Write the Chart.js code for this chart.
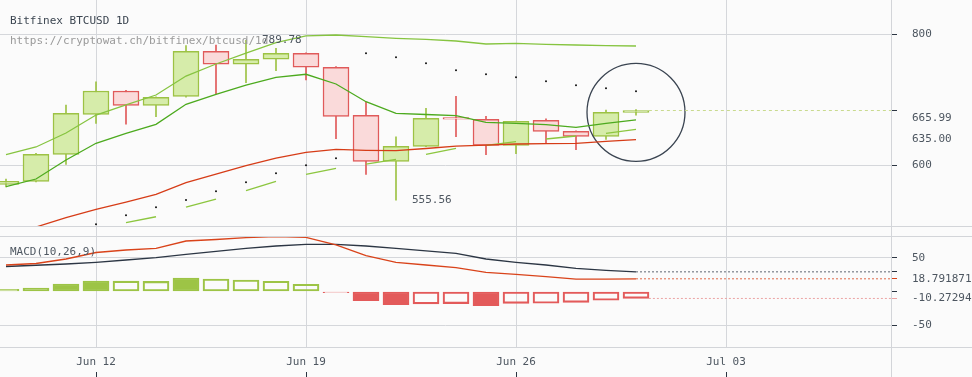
<!DOCTYPE html>
<html>
<head>
<meta charset="utf-8">
<script src="https://cdn.jsdelivr.net/npm/chart.js@4.4.1/dist/chart.umd.min.js"></script>
<style>
  html, body { margin: 0; padding: 0; background: #fbfbfb; }
  #wrap { position: relative; width: 972px; height: 377px; overflow: hidden; background: #fbfbfb;
          font-family: "DejaVu Sans Mono", monospace; font-size: 11px; }
  canvas { position: absolute; left: 0; }
  #main { top: 0; }
  #macd { top: 226px; }
  .hl { position: absolute; left: 0; width: 972px; height: 1px; background: #d3d5d9; }
  .vl { position: absolute; top: 0; left: 891px; width: 1px; height: 377px; background: #d3d5d9; }
  .txt { position: absolute; white-space: nowrap; line-height: 13px; }
</style>
</head>
<body>
<div id="wrap">
  <canvas id="main" width="972" height="226"></canvas>
  <canvas id="macd" width="972" height="151"></canvas>
  <div class="hl" style="top:226px"></div>
  <div class="hl" style="top:236px"></div>
  <div class="hl" style="top:347px"></div>
  <div class="vl"></div>
  <div class="txt" style="left:10px;top:14px;color:#3b4550">Bitfinex BTCUSD 1D</div>
  <div class="txt" style="left:10px;top:34px;color:#9a9a9a">https://cryptowat.ch/bitfinex/btcusd/1d</div>
  <div class="txt" style="left:10px;top:245px;color:#4f5862">MACD(10,26,9)</div>
</div>
<script>
// daily candles, Jun 09 .. Jun 30
const dates = ["Jun 09", "Jun 10", "Jun 11", "Jun 12", "Jun 13", "Jun 14", "Jun 15", "Jun 16",
  "Jun 17", "Jun 18", "Jun 19", "Jun 20", "Jun 21", "Jun 22", "Jun 23", "Jun 24", "Jun 25",
  "Jun 26", "Jun 27", "Jun 28", "Jun 29", "Jun 30"];
const opens = [575.4, 579.2, 614.7, 671.3, 706.6, 684.7, 698.4, 771.1, 749.4, 757.7, 767.7,
  744.5, 669.8, 605.3, 625.6, 666.4, 663.9, 627.0, 662.5, 646.6, 639.5, 674.0];
const closes = [579.2, 614.7, 672.8, 706.6, 684.7, 696.9, 771.1, 749.4, 757.7, 767.7, 744.5,
  668.3, 605.3, 625.6, 665.4, 664.2, 627.0, 661.0, 646.6, 639.5, 674.2, 676.9];
const highs = [582.2, 616.0, 685.2, 721.2, 707.5, 697.5, 780.7, 781.9, 789.78, 776.2, 768.5,
  745.5, 689.2, 639.0, 680.2, 698.4, 668.3, 661.5, 664.8, 647.2, 677.7, 678.2];
const lows = [572.0, 578.5, 601.3, 658.1, 656.7, 667.7, 697.0, 702.0, 719.6, 738.9, 723.9,
  636.2, 588.2, 555.56, 625.0, 639.0, 614.2, 615.5, 629.8, 621.0, 635.3, 670.2];

// overlays
const upperLine = [614.4, 624.7, 644.2, 670.2, 685.2, 700.4, 730.3, 749.9, 768.2, 785.9, 797.6,
  799.3, 796.3, 793.5, 791.8, 788.8, 783.6, 784.8, 783.1, 781.9, 780.7, 780.2];
const midLine = [572.6, 582.2, 607.0, 629.8, 643.8, 656.7, 686.2, 701.5, 716.0, 728.2, 733.1,
  717.6, 690.2, 672.8, 671.0, 669.2, 659.6, 658.1, 656.1, 652.3, 658.1, 663.0];
const lowerLine = [521.5, 523.8, 534.9, 544.6, 553.4, 562.9, 577.5, 588.6, 599.5, 609.7, 617.4,
  621.5, 620.1, 619.6, 622.6, 626.0, 627.4, 628.8, 629.4, 629.8, 632.6, 635.0];
const dashLine = [null, null, 513.5, 521.5, 528.8, 535.8, 547.4, 557.1, 567.4, 579.2, 588.2,
  596.1, 601.7, 608.0, 614.7, 622.9, 627.0, 632.0, 635.8, 640.0, 643.8, 649.5];
const sarDots = [null, null, null, 526.9, 537.5, 547.0, 555.9, 566.6, 578.0, 589.5, 600.0,
  609.3, 767.7, 761.0, 751.0, 739.5, 733.1, 728.2, 721.9, 715.5, 710.8, 706.1];
const circleIdx = [21];
const circleVal = [674.2];

// MACD(10,26,9)
const macdLine = [39.2, 41.4, 48.1, 57.7, 61.4, 63.9, 74.7, 76.9, 79.6, 81.1, 80.2, 68.8,
  53.0, 43.2, 39.2, 35.2, 28.4, 25.4, 21.9, 18.2, 18.3, 18.791871];
const signalLine = [37.0, 38.8, 40.7, 43.2, 46.6, 50.0, 55.0, 59.5, 63.9, 67.3, 69.8, 69.8,
  67.3, 63.9, 60.2, 56.5, 48.1, 43.2, 39.2, 34.3, 31.4, 29.06];
const histValues = [3.3, 5.2, 11.1, 15.5, 15.3, 15.0, 20.0, 18.5, 17.0, 15.1, 10.7, -1.8,
  -13.6, -19.5, -18.2, -17.9, -21.0, -17.5, -17.4, -16.0, -13.0, -10.27294];

// axes
const xTickIdx = [3, 10, 17, 24];
const xTickLabels = ["Jun 12", "Jun 19", "Jun 26", "Jul 03"];
const priceGridValues = [600, 800];
const priceMarkers = [665.99, 635.00];
const macdGridValues = [50, -50];

const X_MIN = -0.2, X_MAX = 29.5;
const GRID = "#d5d7db";
const CLEAR = "rgba(0,0,0,0)";
const TICK_DARK = "#2b3542";

Chart.defaults.font.family = '"DejaVu Sans Mono", monospace';
Chart.defaults.font.size = 11;
Chart.defaults.color = "#4d5660";

const last = dates.length - 1;
const lastClose = closes[last];
const pts = arr => arr.map((v, i) => ({ x: i, y: v }));
const up = closes.map((c, i) => c >= opens[i]);
const bodyFill = up.map(u => (u ? "#d6ecaa" : "#fadada"));
const bodyLine = up.map(u => (u ? "#9dc244" : "#e05a5a"));

const xTicks = s => { s.ticks = xTickIdx.map(v => ({ value: v })); };
const noPad = s => { s.paddingTop = 0; s.paddingBottom = 0; s.paddingLeft = 0; s.paddingRight = 0; };

function lineDs(data, color, extra) {
  return Object.assign({ type: "line", data, borderColor: color, borderWidth: 1.3,
    pointRadius: 0, tension: 0, order: 0 }, extra || {});
}

const extremaLabels = {
  id: "extremaLabels",
  afterDatasetsDraw(chart) {
    const { ctx, scales } = chart;
    const hi = Math.max(...highs);
    const lo = Math.min(...lows);
    ctx.save();
    ctx.font = '11px "DejaVu Sans Mono"';
    ctx.fillStyle = "#4d5660";
    ctx.textBaseline = "middle";
    ctx.fillText(hi.toFixed(2), scales.x.getPixelForValue(highs.indexOf(hi)) + 16, scales.y.getPixelForValue(hi));
    ctx.fillText(lo.toFixed(2), scales.x.getPixelForValue(lows.indexOf(lo)) + 16, scales.y.getPixelForValue(lo));
    ctx.restore();
  },
};

const priceAxis = [...priceGridValues, ...priceMarkers, lastClose].sort((a, b) => a - b);

new Chart(document.getElementById("main"), {
  type: "bar",
  data: {
    datasets: [
      lineDs(pts(upperLine), "#86c440"),
      lineDs(pts(midLine), "#4caa1e"),
      lineDs(pts(lowerLine), "#d63c17"),
      lineDs(pts(dashLine), "#8cc63f", {
        segment: { borderColor: c => (c.p0DataIndex % 2 === 0 ? "#8cc63f" : CLEAR) },
      }),
      lineDs(pts(sarDots), "#111", { showLine: false, pointRadius: 1, pointBackgroundColor: "#111", pointBorderWidth: 0 }),
      lineDs([{ x: last + 0.43, y: lastClose }, { x: X_MAX, y: lastClose }], "#c9da8e",
        { borderWidth: 1, borderDash: [3, 3] }),
      lineDs(circleIdx.map((x, i) => ({ x, y: circleVal[i] })), "#3a4451", {
        showLine: false, pointRadius: 49, pointBackgroundColor: CLEAR,
        pointBorderColor: "#3a4451", pointBorderWidth: 1.3,
      }),
      lineDs(priceMarkers.map(v => ({ x: X_MAX + 0.15, y: v })), "#f4c20d", {
        showLine: false, clip: false, pointStyle: "triangle", rotation: -90, pointRadius: 3.8,
        pointBackgroundColor: "#f4c20d", pointBorderWidth: 0,
      }),
      {
        type: "bar",
        data: dates.map((_, i) => ({ x: i, y: [Math.min(opens[i], closes[i]), Math.max(opens[i], closes[i])] })),
        backgroundColor: bodyFill, borderColor: bodyLine, borderWidth: 1.5, borderSkipped: false,
        grouped: false, barPercentage: 1, categoryPercentage: 1, maxBarThickness: 26, order: 2,
      },
      {
        type: "bar",
        data: dates.map((_, i) => ({ x: i, y: [lows[i], highs[i]] })),
        backgroundColor: bodyLine, borderWidth: 0,
        grouped: false, barPercentage: 1, categoryPercentage: 1, maxBarThickness: 1, order: 3,
      },
    ],
  },
  options: {
    responsive: false, animation: false, events: [],
    layout: { padding: 0, autoPadding: false },
    plugins: { legend: { display: false }, tooltip: { enabled: false } },
    scales: {
      x: {
        type: "linear", min: X_MIN, max: X_MAX, offset: false,
        afterBuildTicks: xTicks,
        ticks: { display: false },
        grid: { offset: false, color: GRID, drawTicks: false },
        border: { display: false },
        afterFit: s => { noPad(s); s.height = 0; },
      },
      y: {
        type: "logarithmic", position: "right", min: 525, max: 863.3, bounds: "data",
        afterBuildTicks: s => { s.ticks = priceAxis.map(v => ({ value: v })); },
        afterFit: s => { noPad(s); s.width = 81; },
        ticks: {
          autoSkip: false, padding: 15, color: "#4d5660",
          callback: v => (priceGridValues.includes(v) ? String(v)
            : priceMarkers.includes(v) ? v.toFixed(2) : ""),
        },
        grid: {
          color: c => (priceGridValues.includes(c.tick.value) ? GRID : CLEAR),
          tickLength: 6,
          tickColor: c => (priceMarkers.includes(c.tick.value) ? CLEAR : TICK_DARK),
        },
        border: { display: false },
      },
    },
  },
  plugins: [extremaLabels],
});

const histSolid = histValues.map((v, i) => i > 0 && Math.abs(v) > Math.abs(histValues[i - 1]));
const histColor = histValues.map(v => (v >= 0 ? "#9dc446" : "#e35a5a"));
const lastMacd = macdLine[last], lastSignal = signalLine[last], lastHist = histValues[last];
const macdAxis = [...macdGridValues, 0, lastSignal, lastMacd, lastHist].sort((a, b) => b - a);

new Chart(document.getElementById("macd"), {
  type: "bar",
  data: {
    datasets: [
      lineDs(pts(macdLine), "#d9431a"),
      lineDs(pts(signalLine), "#2c3644"),
      lineDs([{ x: last, y: lastSignal }, { x: X_MAX, y: lastSignal }], "#5d6671", { borderWidth: 1, borderDash: [2, 2] }),
      lineDs([{ x: last, y: lastMacd }, { x: X_MAX, y: lastMacd }], "#de6a4a", { borderWidth: 1, borderDash: [2, 2] }),
      lineDs([{ x: last + 0.43, y: lastHist }, { x: X_MAX, y: lastHist }], "#eba3a3", { borderWidth: 1, borderDash: [2, 2] }),
      {
        type: "bar",
        data: pts(histValues),
        backgroundColor: histValues.map((v, i) => (histSolid[i] ? histColor[i] : CLEAR)),
        borderColor: histColor, borderWidth: 1.5, borderSkipped: false,
        grouped: false, barPercentage: 1, categoryPercentage: 1, maxBarThickness: 26, order: 2,
      },
    ],
  },
  options: {
    responsive: false, animation: false, events: [],
    layout: { padding: 0, autoPadding: false },
    plugins: { legend: { display: false }, tooltip: { enabled: false } },
    scales: {
      x: {
        type: "linear", min: X_MIN, max: X_MAX, offset: false,
        afterBuildTicks: xTicks,
        ticks: { autoSkip: false, maxRotation: 0, padding: 9, color: "#4d5660",
          callback: v => xTickLabels[xTickIdx.indexOf(v)] || "" },
        grid: { offset: false, color: GRID, drawTicks: false },
        border: { display: false },
        afterFit: s => { noPad(s); s.height = 25; },
      },
      x2: {
        type: "linear", position: "bottom", weight: 1, min: X_MIN, max: X_MAX, offset: false,
        afterBuildTicks: xTicks,
        ticks: { display: false },
        grid: { offset: false, drawOnChartArea: false, drawTicks: true, tickLength: 5, tickColor: TICK_DARK },
        border: { display: false },
        afterFit: s => { noPad(s); s.height = 5; },
      },
      y: {
        type: "linear", position: "right", min: -82.1, max: 96.9,
        afterBuildTicks: s => { s.ticks = macdAxis.map(v => ({ value: v })); },
        afterFit: s => { noPad(s); s.width = 81; },
        ticks: {
          autoSkip: false, padding: 15, color: "#4d5660",
          callback: v => (macdGridValues.includes(v) ? String(v)
            : v === lastMacd ? String(lastMacd) : v === lastHist ? String(lastHist) : ""),
        },
        grid: {
          color: c => (macdGridValues.includes(c.tick.value) ? GRID : CLEAR),
          tickLength: 6,
          tickColor: c => (c.tick.value === lastMacd ? "#d9431a"
            : c.tick.value === lastHist ? "#eba3a3" : TICK_DARK),
        },
        border: { display: false },
      },
    },
  },
});
</script>
</body>
</html>
